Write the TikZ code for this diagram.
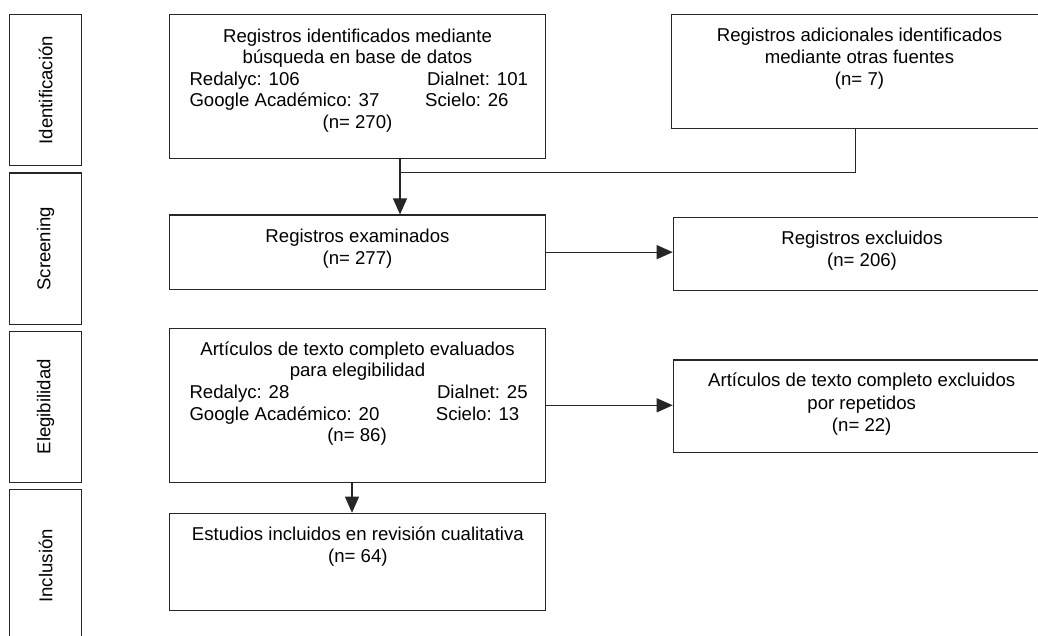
\documentclass[tikz,border=0pt]{standalone}
\usepackage{fontspec}
\setmainfont{Liberation Sans}
\usetikzlibrary{arrows.meta}
\begin{document}
\begin{tikzpicture}[x=1pt,y=-1pt,
  font=\fontsize{18.6}{21.5}\selectfont,
  box/.style={draw=black!85, line width=1.2pt, inner sep=0pt, rectangle},
  txt/.style={inner sep=0pt, anchor=base, text=black},
  txtl/.style={inner sep=0pt, anchor=base west, text=black},
  conn/.style={draw=black!85, line width=1.2pt},
  arr/.style={conn, -{Triangle[length=16pt,width=14pt]}}]
\useasboundingbox (0,0) rectangle (1038,635);
% phase boxes
\node[box, rotate=90, minimum width=151pt, minimum height=72pt] (id) at (45.5,90.2) {Identificación};
\node[box, rotate=90, minimum width=151.5pt, minimum height=72pt] (scr) at (45.5,248.75) {Screening};
\node[box, rotate=90, minimum width=151pt, minimum height=72pt] (ele) at (45.5,406.8) {Elegibilidad};
\node[box, rotate=90, minimum width=152.3pt, minimum height=72pt] (inc) at (45.5,565.85) {Inclusión};
% main boxes
\node[box, minimum width=376pt, minimum height=144pt] (b1) at (357.5,86.7) {};
\node[box, minimum width=375.3pt, minimum height=113.6pt] (b2) at (859.35,71.5) {};
\node[box, minimum width=376pt, minimum height=74.3pt] (b3) at (357.5,252.15) {};
\node[box, minimum width=376.7pt, minimum height=72.6pt] (b4) at (861.65,254) {};
\node[box, minimum width=376pt, minimum height=154pt] (b5) at (357.5,405.3) {};
\node[box, minimum width=376.7pt, minimum height=92.3pt] (b6) at (861.65,406.15) {};
\node[box, minimum width=376pt, minimum height=97.4pt] (b7) at (357.5,562) {};
% texts box1
\node[txt] (t1a) at (357.5,42.3) {Registros identificados mediante};
\node[txt] (t1b) at (357.5,63.3) {búsqueda en base de datos};
\node[txtl] (t1c) at (189.3,85) {Redalyc: 106};
\node[txtl] (t1d) at (426.8,85) {Dialnet: 101};
\node[txtl] (t1e) at (189.3,106) {Google Académico: 37};
\node[txtl] (t1f) at (425,106) {Scielo: 26};
\node[txt] (t1g) at (357.5,128.3) {(n= 270)};
% box2
\node[txt] (t2a) at (859.5,41.7) {Registros adicionales identificados};
\node[txt] (t2b) at (859.5,63.3) {mediante otras fuentes};
\node[txt] (t2c) at (859.5,85) {(n= 7)};
% box3
\node[txt] (t3a) at (357.5,242.3) {Registros examinados};
\node[txt] (t3b) at (357.5,264.3) {(n= 277)};
% box4
\node[txt] (t4a) at (862,244.3) {Registros excluidos};
\node[txt] (t4b) at (862,266.7) {(n= 206)};
% box5
\node[txt] (t5a) at (357.5,355) {Artículos de texto completo evaluados};
\node[txt] (t5b) at (357.5,376.7) {para elegibilidad};
\node[txtl] (t5c) at (189.3,398.3) {Redalyc: 28};
\node[txtl] (t5d) at (436.8,398.3) {Dialnet: 25};
\node[txtl] (t5e) at (189.3,420) {Google Académico: 20};
\node[txtl] (t5f) at (435.7,420) {Scielo: 13};
\node[txt] (t5g) at (357,441.7) {(n= 86)};
% box6
\node[txt] (t6a) at (861.7,386.7) {Artículos de texto completo excluidos};
\node[txt] (t6b) at (861.7,409) {por repetidos};
\node[txt] (t6c) at (861.7,431) {(n= 22)};
% box7
\node[txt] (t7a) at (357.9,540) {Estudios incluidos en revisión cualitativa};
\node[txt] (t7b) at (357.9,562.3) {(n= 64)};
% connectors
\coordinate (j) at (400,172.7);
\coordinate (k) at (855.7,172.7);
\coordinate (m) at (352,490);
\draw[arr] (b1.south -| j) -- (b3.north -| j);
\draw[conn] (b2.south -| k) -- (k) -- (j);
\draw[arr] (b3.east) -- (b3.east -| b4.west);
\draw[arr] (b5.east) -- (b5.east -| b6.west);
\draw[arr] (b5.south -| m) -- (b7.north -| m);
\end{tikzpicture}
\end{document}
